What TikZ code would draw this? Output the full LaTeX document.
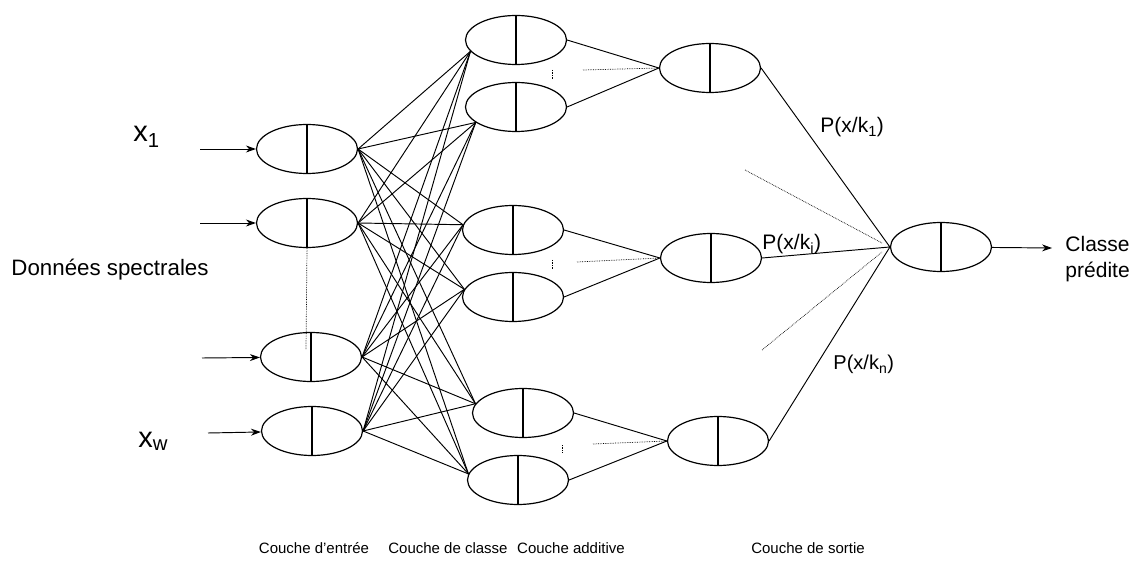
\documentclass[tikz,border=0pt]{standalone}
\usepackage{fontspec}
\setmainfont{Liberation Sans}
\usetikzlibrary{shapes.geometric,arrows.meta}
\begin{document}
\begin{tikzpicture}
[x=1pt,y=-1pt,line width=.95pt,>={Stealth[length=10pt,width=7pt]},
n/.style={ellipse,draw,line width=1.2pt,inner sep=0pt,minimum width=101pt,minimum height=49pt,
path picture={\draw[line width=1.2pt](path picture bounding box.north)--(path picture bounding box.south);}},
pts/.style={densely dotted,line width=.7pt},
lab/.style={inner sep=0pt,anchor=base west,font=\fontsize{21}{24}\selectfont},
couche/.style={inner sep=0pt,anchor=base,font=\fontsize{15}{18}\selectfont}]
\useasboundingbox (0,0) rectangle (1136,561);
% couche d'entree
\node(i1) at (307,149)[n]{};\node(i2) at (307,223)[n]{};\node(i3) at (311,357)[n]{};\node(i4) at (312,431)[n]{};
% couche de classe
\node(c1) at (516,40)[n]{};\node(c2) at (516,107)[n]{};\node(c3) at (513,230)[n]{};
\node(c4) at (513,297)[n]{};\node(c5) at (523,413)[n]{};\node(c6) at (518,480)[n]{};
% couche additive et sortie
\node(a1) at (710,68)[n]{};\node(a2) at (711,258)[n]{};\node(a3) at (718,441)[n]{};
\node(o) at (941,247)[n]{};
% entrees
\coordinate(e1) at (200,149);\coordinate(e2) at (200,223);\coordinate(e3) at (202,358);\coordinate(e4) at (208,433);
\coordinate(s) at (1052,248);
\draw[->](e1)--(i1);\draw[->](e2)--(i2);\draw[->](e3)--(i3);\draw[->](e4)--(i4);\draw[->](o)--(s);
\coordinate(d1) at (306,350);\draw[pts](i2.south)--(d1);
\foreach \i in {i1,i2,i3,i4}
  \foreach \c/\t in {c1/194,c2/201,c3/174,c4/171,c5/169,c6/173} \draw(\i.east)--(\c.\t);
\draw(c1.east)--(a1.west)--(c2.east);\draw(c3.east)--(a2.west)--(c4.east);\draw(c5.east)--(a3.west)--(c6.east);
\draw(a1.east)--(o.west)--(a2.east);\draw(a3.east)--(o.west);
% pointilles
\coordinate(h1) at (583,70);\coordinate(h2) at (577,262);\coordinate(h3) at (593,444);
\draw[pts](h1)--(a1.west);\draw[pts](h2)--(a2.west);\draw[pts](h3)--(a3.west);
\draw[pts](552,70)--(552,79);\draw[pts](552,260)--(552,270);\draw[pts](562,445)--(562,453);
\coordinate(p1) at (745,170);\coordinate(p2) at (762,350);\coordinate(q1) at (882,243);\coordinate(q2) at (882,252);
\draw[pts](p1)--(q1);\draw[pts](p2)--(q2);
% textes
\node(x1) at (133,142)[lab,font=\fontsize{29}{32}\selectfont]{x\textsubscript{1}};
\node(xw) at (138,447)[lab,font=\fontsize{29}{32}\selectfont]{x\textsubscript{w}};
\node(ds) at (11,276)[lab,font=\fontsize{22.3}{26}\selectfont]{Données spectrales};
\node(pk1) at (820,133)[lab]{P(x/k\textsubscript{1})};
\node(pki) at (762,250)[lab]{P(x/k\textsubscript{i})};
\node(pkn) at (833,370)[lab,font=\fontsize{20}{23}\selectfont]{P(x/k\textsubscript{n})};
\node(cp) at (1065,259)[anchor=west,inner sep=0pt,align=left,font=\fontsize{21}{26}\selectfont]{Classe\\prédite};
\node(l1) at (314,553)[couche]{Couche d’entrée};\node(l2) at (448,553)[couche]{Couche de classe};
\node(l3) at (571,553)[couche]{Couche additive};\node(l4) at (808,553)[couche]{Couche de sortie};
\end{tikzpicture}
\end{document}
